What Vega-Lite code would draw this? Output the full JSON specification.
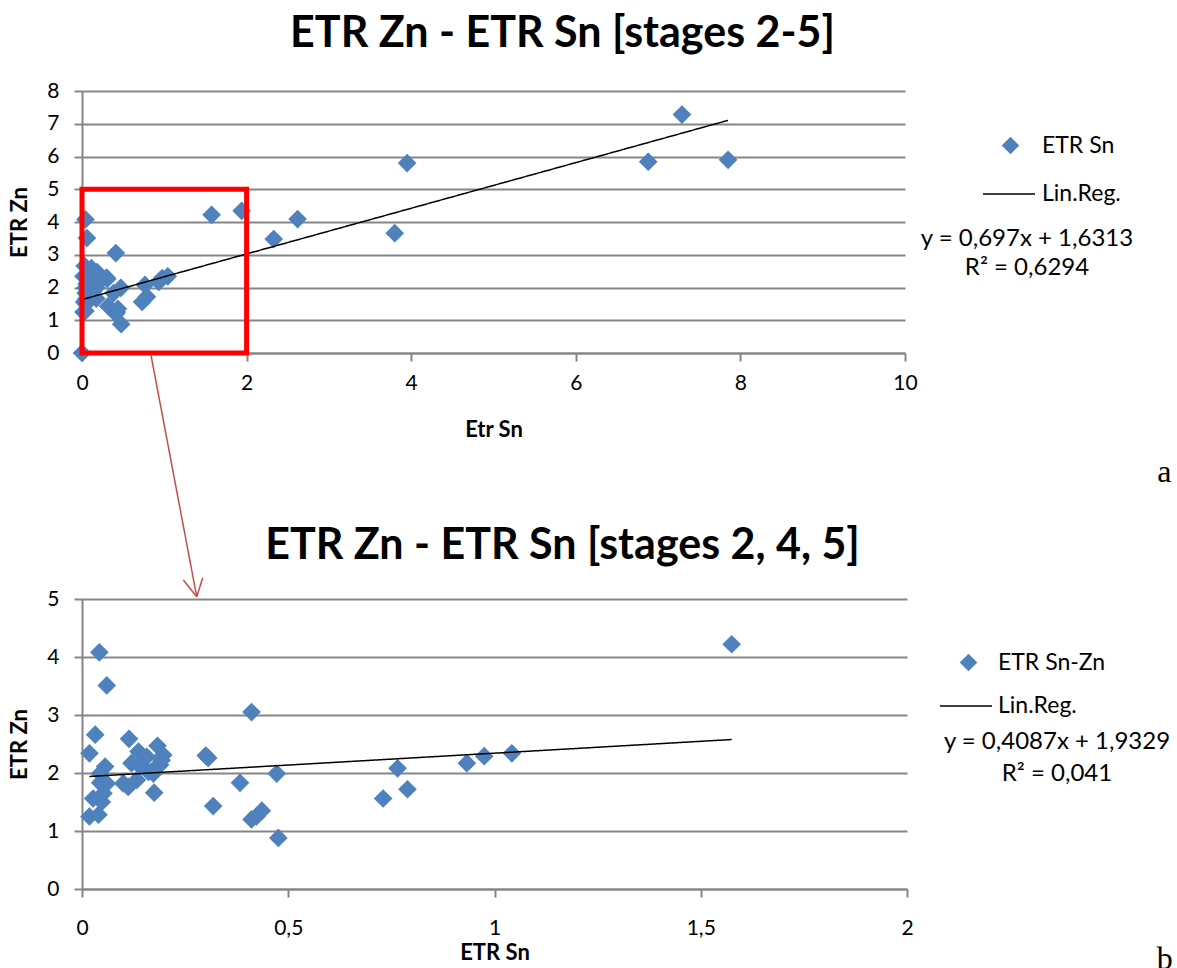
{
  "$schema": "https://vega.github.io/schema/vega-lite/v6.json",
  "background": "white",
  "padding": {"left": 8, "top": 13, "right": 0, "bottom": 0},
  "bounds": "flush",
  "spacing": 246,
  "resolve": {"scale": {"x": "independent", "y": "independent", "color": "independent", "strokeDash": "independent", "opacity": "independent"}, "legend": {"color": "independent", "strokeDash": "independent", "opacity": "independent"}},
  "config": {
    "font": "Lato",
    "view": {"stroke": null},
    "axis": {
      "domainColor": "#868686", "domainWidth": 2,
      "tickColor": "#868686", "tickWidth": 2, "tickSize": 8,
      "gridColor": "#868686", "gridWidth": 2,
      "labelFont": "Lato", "labelFontSize": 21, "labelColor": "#000000", "labelFlush": false,
      "titleFont": "Lato", "titleFontSize": 22, "titleFontWeight": "bold", "titleColor": "#000000"
    },
    "axisX": {"grid": false},
    "axisY": {"grid": true, "labelPadding": 15, "titlePadding": 15},
    "legend": {
      "labelFont": "Lato", "labelFontSize": 23, "labelColor": "#000000",
      "padding": 0, "labelLimit": 400, "orient": "none"
    },
    "title": {"font": "Lato", "fontSize": 43, "fontWeight": "bold", "color": "#000000", "anchor": "middle"}
  },
  "datasets": {
    "points": [
      {"sn": 0.042, "zn": 4.08, "stage": "2,4,5"},
      {"sn": 0.060, "zn": 3.51, "stage": "2,4,5"},
      {"sn": 0.032, "zn": 2.66, "stage": "2,4,5"},
      {"sn": 0.018, "zn": 2.34, "stage": "2,4,5"},
      {"sn": 0.114, "zn": 2.59, "stage": "2,4,5"},
      {"sn": 0.411, "zn": 3.05, "stage": "2,4,5"},
      {"sn": 0.300, "zn": 2.30, "stage": "2,4,5"},
      {"sn": 0.306, "zn": 2.26, "stage": "2,4,5"},
      {"sn": 0.383, "zn": 1.83, "stage": "2,4,5"},
      {"sn": 0.472, "zn": 1.99, "stage": "2,4,5"},
      {"sn": 0.318, "zn": 1.43, "stage": "2,4,5"},
      {"sn": 0.411, "zn": 1.20, "stage": "2,4,5"},
      {"sn": 0.423, "zn": 1.25, "stage": "2,4,5"},
      {"sn": 0.436, "zn": 1.35, "stage": "2,4,5"},
      {"sn": 0.476, "zn": 0.88, "stage": "2,4,5"},
      {"sn": 0.175, "zn": 1.66, "stage": "2,4,5"},
      {"sn": 0.018, "zn": 1.25, "stage": "2,4,5"},
      {"sn": 0.040, "zn": 1.28, "stage": "2,4,5"},
      {"sn": 0.027, "zn": 1.56, "stage": "2,4,5"},
      {"sn": 0.048, "zn": 1.50, "stage": "2,4,5"},
      {"sn": 0.052, "zn": 1.65, "stage": "2,4,5"},
      {"sn": 0.060, "zn": 1.82, "stage": "2,4,5"},
      {"sn": 0.044, "zn": 1.83, "stage": "2,4,5"},
      {"sn": 0.044, "zn": 1.99, "stage": "2,4,5"},
      {"sn": 0.056, "zn": 2.11, "stage": "2,4,5"},
      {"sn": 0.137, "zn": 2.37, "stage": "2,4,5"},
      {"sn": 0.120, "zn": 2.17, "stage": "2,4,5"},
      {"sn": 0.141, "zn": 2.11, "stage": "2,4,5"},
      {"sn": 0.157, "zn": 2.28, "stage": "2,4,5"},
      {"sn": 0.183, "zn": 2.47, "stage": "2,4,5"},
      {"sn": 0.197, "zn": 2.31, "stage": "2,4,5"},
      {"sn": 0.189, "zn": 2.14, "stage": "2,4,5"},
      {"sn": 0.173, "zn": 1.99, "stage": "2,4,5"},
      {"sn": 0.181, "zn": 2.11, "stage": "2,4,5"},
      {"sn": 0.112, "zn": 1.76, "stage": "2,4,5"},
      {"sn": 0.100, "zn": 1.82, "stage": "2,4,5"},
      {"sn": 0.133, "zn": 1.88, "stage": "2,4,5"},
      {"sn": 0.161, "zn": 2.02, "stage": "2,4,5"},
      {"sn": 0.193, "zn": 2.22, "stage": "2,4,5"},
      {"sn": 0.730, "zn": 1.56, "stage": "2,4,5"},
      {"sn": 0.789, "zn": 1.72, "stage": "2,4,5"},
      {"sn": 0.765, "zn": 2.08, "stage": "2,4,5"},
      {"sn": 0.933, "zn": 2.17, "stage": "2,4,5"},
      {"sn": 0.975, "zn": 2.29, "stage": "2,4,5"},
      {"sn": 1.042, "zn": 2.34, "stage": "2,4,5"},
      {"sn": 1.575, "zn": 4.22, "stage": "2,4,5"},
      {"sn": 0.000, "zn": 0.00, "stage": "3"},
      {"sn": 1.940, "zn": 4.34, "stage": "3"},
      {"sn": 2.330, "zn": 3.48, "stage": "3"},
      {"sn": 2.620, "zn": 4.09, "stage": "3"},
      {"sn": 3.800, "zn": 3.66, "stage": "3"},
      {"sn": 3.950, "zn": 5.80, "stage": "3"},
      {"sn": 6.880, "zn": 5.84, "stage": "3"},
      {"sn": 7.290, "zn": 7.28, "stage": "3"},
      {"sn": 7.850, "zn": 5.90, "stage": "3"}
    ],
    "fitTop": [{"sn": 0, "zn": 1.6313}, {"sn": 7.85, "zn": 7.103}],
    "fitBottom": [{"sn": 0.018, "zn": 1.940}, {"sn": 1.575, "zn": 2.577}]
  },
  "vconcat": [
    {
      "width": 823,
      "height": 262,
      "title": {"text": "ETR Zn - ETR Sn [stages 2-5]", "dx": 69, "offset": 24},
      "layer": [
        {
          "data": {"name": "points"},
          "mark": {"type": "point", "shape": "diamond", "filled": true, "size": 350, "opacity": 1, "clip": false},
          "encoding": {
            "x": {"field": "sn", "type": "quantitative", "scale": {"domain": [0, 10], "nice": false}, "axis": {"title": "Etr Sn", "values": [0, 2, 4, 6, 8, 10], "format": "d", "labelPadding": 11, "titlePadding": 26}},
            "y": {"field": "zn", "type": "quantitative", "scale": {"domain": [0, 8], "nice": false}, "axis": {"title": "ETR Zn", "values": [0, 1, 2, 3, 4, 5, 6, 7, 8], "format": "d"}},
            "color": {
              "datum": "ETR Sn",
              "scale": {"domain": ["ETR Sn"], "range": ["#4f81bd"]},
              "legend": {"title": null, "legendX": 917, "legendY": 43, "symbolType": "diamond", "symbolSize": 310, "symbolOpacity": 1, "labelOffset": 20}
            }
          }
        },
        {
          "data": {"name": "fitTop"},
          "mark": {"type": "line", "strokeWidth": 1.5, "color": "#000000"},
          "encoding": {
            "x": {"field": "sn", "type": "quantitative", "axis": {"title": "Etr Sn", "values": [0, 2, 4, 6, 8, 10], "format": "d", "labelPadding": 11, "titlePadding": 26}},
            "y": {"field": "zn", "type": "quantitative", "axis": {"title": "ETR Zn", "values": [0, 1, 2, 3, 4, 5, 6, 7, 8], "format": "d"}},
            "strokeDash": {
              "datum": "Lin.Reg.",
              "scale": {"domain": ["Lin.Reg."], "range": [[1, 0]]},
              "legend": {"title": null, "legendX": 900, "legendY": 76, "symbolType": "stroke", "symbolSize": 2704, "symbolStrokeColor": "#000000", "symbolStrokeWidth": 1.5, "labelOffset": 6}
            },
            "opacity": {
              "datum": "y = 0,697x + 1,6313",
              "scale": {"domain": ["y = 0,697x + 1,6313", "R² = 0,6294"], "range": [1, 1]},
              "legend": {"title": null, "legendX": 921, "legendY": 136, "symbolType": "stroke", "symbolSize": 1, "symbolStrokeWidth": 0, "symbolStrokeColor": "transparent", "labelOffset": 0, "labelAlign": "center", "labelFontSize": 24, "rowPadding": 5}
            }
          }
        },
        {
          "data": {"values": [{}]},
          "mark": {"type": "rect", "filled": false, "stroke": "#ff0000", "strokeWidth": 5, "clip": false},
          "encoding": {
            "x": {"datum": 0, "type": "quantitative", "axis": {"title": "Etr Sn", "values": [0, 2, 4, 6, 8, 10], "format": "d", "labelPadding": 11, "titlePadding": 26}},
            "x2": {"datum": 2},
            "y": {"datum": 0, "type": "quantitative", "axis": {"title": "ETR Zn", "values": [0, 1, 2, 3, 4, 5, 6, 7, 8], "format": "d"}},
            "y2": {"datum": 5}
          }
        },
        {
          "data": {"values": [{}]},
          "mark": {"type": "rule", "color": "#c0504d", "strokeWidth": 1.5, "clip": false},
          "encoding": {
            "x": {"datum": 0.838, "type": "quantitative", "axis": {"title": "Etr Sn", "values": [0, 2, 4, 6, 8, 10], "format": "d", "labelPadding": 11, "titlePadding": 26}},
            "y": {"datum": -0.061, "type": "quantitative", "axis": {"title": "ETR Zn", "values": [0, 1, 2, 3, 4, 5, 6, 7, 8], "format": "d"}},
            "x2": {"datum": 1.394}, "y2": {"datum": -7.44}
          }
        },
        {
          "data": {"values": [{}]},
          "mark": {"type": "rule", "color": "#c0504d", "strokeWidth": 1.5, "clip": false},
          "encoding": {
            "x": {"datum": 1.231, "type": "quantitative", "axis": {"title": "Etr Sn", "values": [0, 2, 4, 6, 8, 10], "format": "d", "labelPadding": 11, "titlePadding": 26}},
            "y": {"datum": -6.93, "type": "quantitative", "axis": {"title": "ETR Zn", "values": [0, 1, 2, 3, 4, 5, 6, 7, 8], "format": "d"}},
            "x2": {"datum": 1.394}, "y2": {"datum": -7.44}
          }
        },
        {
          "data": {"values": [{}]},
          "mark": {"type": "rule", "color": "#c0504d", "strokeWidth": 1.5, "clip": false},
          "encoding": {
            "x": {"datum": 1.467, "type": "quantitative", "axis": {"title": "Etr Sn", "values": [0, 2, 4, 6, 8, 10], "format": "d", "labelPadding": 11, "titlePadding": 26}},
            "y": {"datum": -6.86, "type": "quantitative", "axis": {"title": "ETR Zn", "values": [0, 1, 2, 3, 4, 5, 6, 7, 8], "format": "d"}},
            "x2": {"datum": 1.394}, "y2": {"datum": -7.44}
          }
        },
        {
          "data": {"values": [{}]},
          "mark": {"type": "text", "text": "a", "font": "Liberation Serif", "fontSize": 32, "align": "center", "baseline": "alphabetic", "color": "#000000", "clip": false},
          "encoding": {
            "x": {"datum": 13.15, "type": "quantitative", "axis": {"title": "Etr Sn", "values": [0, 2, 4, 6, 8, 10], "format": "d", "labelPadding": 11, "titlePadding": 26}},
            "y": {"datum": -3.95, "type": "quantitative", "axis": {"title": "ETR Zn", "values": [0, 1, 2, 3, 4, 5, 6, 7, 8], "format": "d"}}
          }
        }
      ]
    },
    {
      "width": 825,
      "height": 290,
      "title": {"text": "ETR Zn - ETR Sn [stages 2, 4, 5]", "dx": 68, "offset": 20},
      "layer": [
        {
          "data": {"name": "points"},
          "transform": [{"filter": "datum.stage !== '3'"}],
          "mark": {"type": "point", "shape": "diamond", "filled": true, "size": 350, "opacity": 1, "clip": false},
          "encoding": {
            "x": {"field": "sn", "type": "quantitative", "scale": {"domain": [0, 2], "nice": false}, "axis": {"title": "ETR Sn", "values": [0, 0.5, 1, 1.5, 2], "labelExpr": "replace(format(datum.value, '~g'), '.', ',')", "labelPadding": 20, "titlePadding": 4}},
            "y": {"field": "zn", "type": "quantitative", "scale": {"domain": [0, 5], "nice": false}, "axis": {"title": "ETR Zn", "values": [0, 1, 2, 3, 4, 5], "format": "d"}},
            "color": {
              "datum": "ETR Sn-Zn",
              "scale": {"domain": ["ETR Sn-Zn"], "range": ["#4f81bd"]},
              "legend": {"title": null, "legendX": 875, "legendY": 52, "symbolType": "diamond", "symbolSize": 310, "symbolOpacity": 1, "labelOffset": 18}
            }
          }
        },
        {
          "data": {"name": "fitBottom"},
          "mark": {"type": "line", "strokeWidth": 1.5, "color": "#000000"},
          "encoding": {
            "x": {"field": "sn", "type": "quantitative", "axis": {"title": "ETR Sn", "values": [0, 0.5, 1, 1.5, 2], "labelExpr": "replace(format(datum.value, '~g'), '.', ',')", "labelPadding": 20, "titlePadding": 4}},
            "y": {"field": "zn", "type": "quantitative", "axis": {"title": "ETR Zn", "values": [0, 1, 2, 3, 4, 5], "format": "d"}},
            "strokeDash": {
              "datum": "Lin.Reg.",
              "scale": {"domain": ["Lin.Reg."], "range": [[1, 0]]},
              "legend": {"title": null, "legendX": 857, "legendY": 80, "symbolType": "stroke", "symbolSize": 2704, "symbolStrokeColor": "#000000", "symbolStrokeWidth": 1.5, "labelOffset": 5}
            },
            "opacity": {
              "datum": "y = 0,4087x + 1,9329",
              "scale": {"domain": ["y = 0,4087x + 1,9329", "R² = 0,041"], "range": [1, 1]},
              "legend": {"title": null, "legendX": 951, "legendY": 131, "symbolType": "stroke", "symbolSize": 1, "symbolStrokeWidth": 0, "symbolStrokeColor": "transparent", "labelOffset": 0, "labelAlign": "center", "labelFontSize": 24, "rowPadding": 8}
            }
          }
        },
        {
          "data": {"values": [{}]},
          "mark": {"type": "text", "text": "b", "font": "Liberation Serif", "fontSize": 32, "align": "center", "baseline": "alphabetic", "color": "#000000", "clip": false},
          "encoding": {
            "x": {"datum": 2.625, "type": "quantitative", "axis": {"title": "ETR Sn", "values": [0, 0.5, 1, 1.5, 2], "labelExpr": "replace(format(datum.value, '~g'), '.', ',')", "labelPadding": 20, "titlePadding": 4}},
            "y": {"datum": -1.38, "type": "quantitative", "axis": {"title": "ETR Zn", "values": [0, 1, 2, 3, 4, 5], "format": "d"}}
          }
        }
      ]
    }
  ]
}
